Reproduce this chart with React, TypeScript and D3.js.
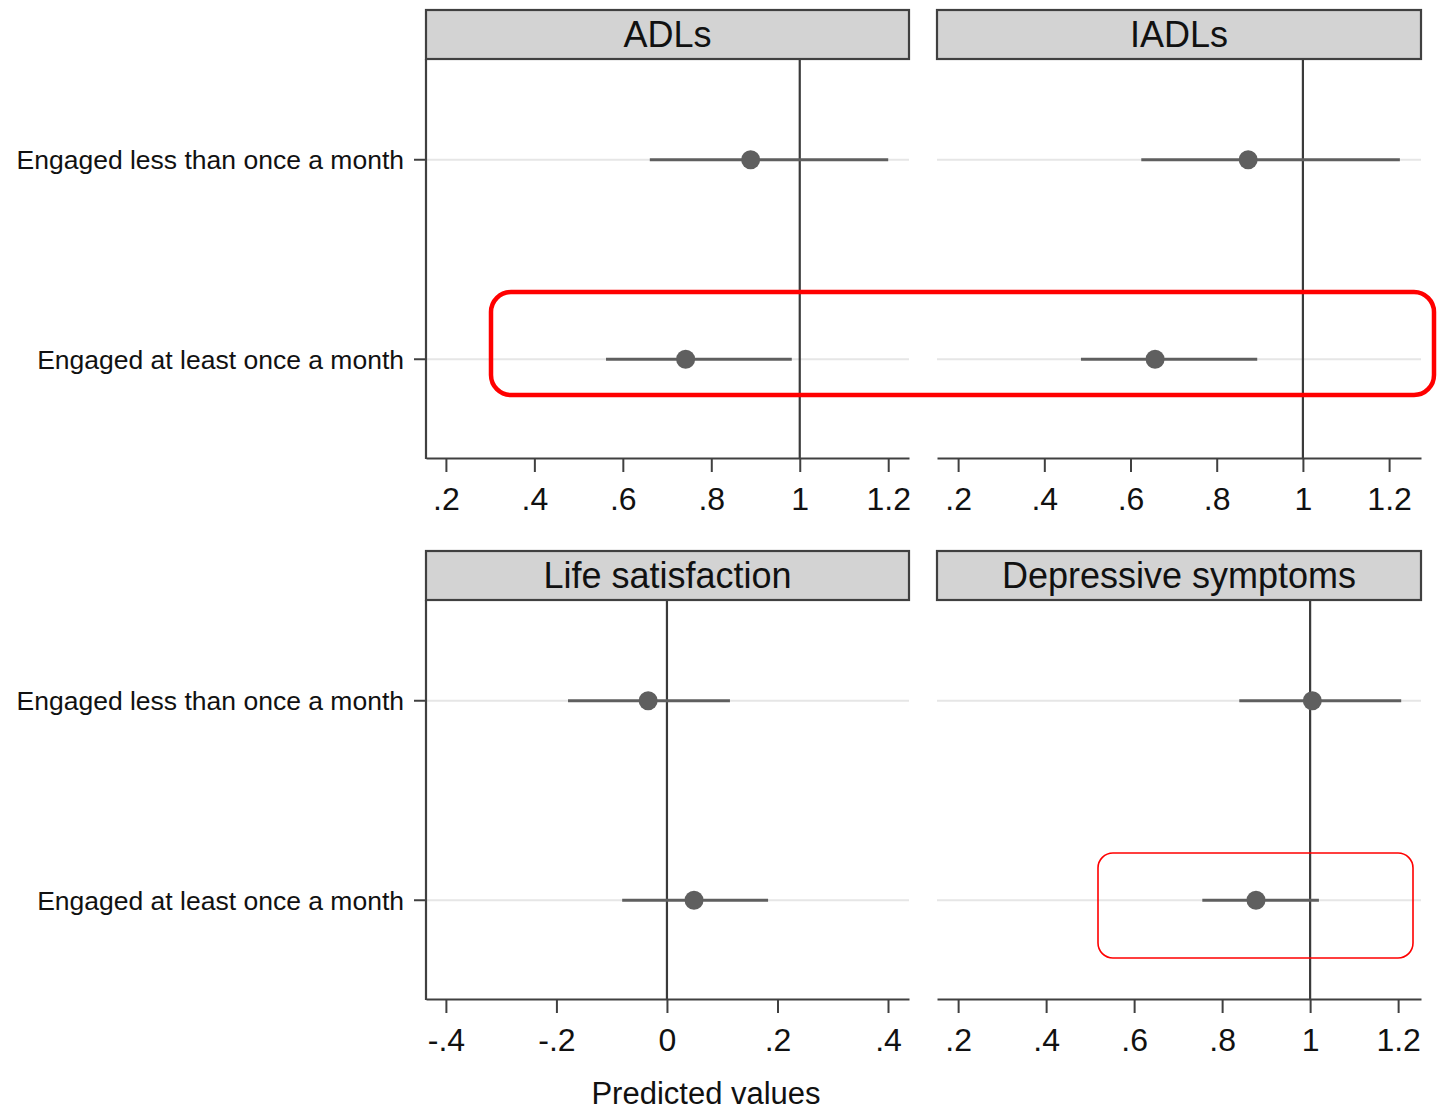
import React, { useEffect, useRef } from "react";
import * as d3 from "d3";

// Outcome panels (row-major: top-left, top-right, bottom-left, bottom-right)
const panelTitles = ["ADLs", "IADLs", "Life satisfaction", "Depressive symptoms"];
const categories = ["Engaged less than once a month", "Engaged at least once a month"];

// Predicted values with 95% CI, per panel, per category
const estimates = [
  [0.889, 0.742],
  [0.873, 0.657],
  [-0.034, 0.049],
  [1.005, 0.877],
];
const lowerCI = [
  [0.661, 0.562],
  [0.625, 0.485],
  [-0.179, -0.081],
  [0.839, 0.755],
];
const upperCI = [
  [1.2, 0.982],
  [1.225, 0.894],
  [0.114, 0.183],
  [1.207, 1.02],
];
const referenceValues = [1, 1, 0, 1];
const tickValues = [
  [0.2, 0.4, 0.6, 0.8, 1, 1.2],
  [0.2, 0.4, 0.6, 0.8, 1, 1.2],
  [-0.4, -0.2, 0, 0.2, 0.4],
  [0.2, 0.4, 0.6, 0.8, 1, 1.2],
];
const xDomains = [
  [0.155, 1.247],
  [0.151, 1.274],
  [-0.436, 0.438],
  [0.152, 1.252],
];
const xAxisTitle = "Predicted values";

const W = 1438;
const H = 1110;
const FONT = "'Liberation Sans', Arial, sans-serif";

const fmt = (v: number) => {
  const s = String(+v.toFixed(2));
  return s.replace(/^(-?)0\./, "$1.");
};

export default function App() {
  const ref = useRef<SVGSVGElement | null>(null);

  useEffect(() => {
    const svg = d3.select(ref.current);
    svg.selectAll("*").remove();

    const colX = [426, 937];
    const panelW = [483, 484];
    const rowTop = [10, 551];
    const headerH = 49;
    const plotH = 399;

    panelTitles.forEach((title, i) => {
      const col = i % 2;
      const row = Math.floor(i / 2);
      const x0 = colX[col];
      const w = panelW[col];
      const top = rowTop[row];
      const plotTop = top + headerH;
      const plotBottom = plotTop + plotH;

      const x = d3.scaleLinear().domain(xDomains[i]).range([x0, x0 + w]);
      const y = d3
        .scalePoint<string>()
        .domain(categories)
        .range([plotTop + 1, plotBottom + 1])
        .padding(0.5);

      const g = svg.append("g");

      // row guide lines
      g.selectAll("line.grid")
        .data(categories)
        .enter()
        .append("line")
        .attr("x1", x0)
        .attr("x2", x0 + w)
        .attr("y1", (d) => y(d)!)
        .attr("y2", (d) => y(d)!)
        .attr("stroke", "#e6e6e6")
        .attr("stroke-width", 2);

      // reference line
      g.append("line")
        .attr("x1", x(referenceValues[i]))
        .attr("x2", x(referenceValues[i]))
        .attr("y1", plotTop)
        .attr("y2", plotBottom)
        .attr("stroke", "#3a3a3a")
        .attr("stroke-width", 2.2);

      // confidence intervals
      g.selectAll("line.ci")
        .data(categories)
        .enter()
        .append("line")
        .attr("x1", (_, j) => x(lowerCI[i][j]))
        .attr("x2", (_, j) => x(upperCI[i][j]))
        .attr("y1", (d) => y(d)!)
        .attr("y2", (d) => y(d)!)
        .attr("stroke", "#5f5f5f")
        .attr("stroke-width", 3);

      // point estimates
      g.selectAll("circle")
        .data(categories)
        .enter()
        .append("circle")
        .attr("cx", (_, j) => x(estimates[i][j]))
        .attr("cy", (d) => y(d)!)
        .attr("r", 9.5)
        .attr("fill", "#5f5f5f");

      // x axis
      const axisG = g.append("g").attr("transform", `translate(0,${plotBottom})`);
      const ax = d3
        .axisBottom(x)
        .tickValues(tickValues[i])
        .tickFormat((d) => fmt(+d))
        .tickSizeOuter(0)
        .tickSizeInner(14)
        .tickPadding(15);
      axisG.call(ax);
      axisG.select(".domain").attr("stroke", "#404040").attr("stroke-width", 2.2);
      axisG.selectAll(".tick line").attr("stroke", "#404040").attr("stroke-width", 2);
      axisG
        .selectAll(".tick text")
        .attr("fill", "#111")
        .attr("font-family", FONT)
        .attr("font-size", 32)
        .attr("dy", "0.72em");

      // y axis on the left column only
      if (col === 0) {
        g.append("line")
          .attr("x1", x0)
          .attr("x2", x0)
          .attr("y1", plotTop)
          .attr("y2", plotBottom + 1)
          .attr("stroke", "#404040")
          .attr("stroke-width", 2.2);
        g.selectAll("line.ytick")
          .data(categories)
          .enter()
          .append("line")
          .attr("x1", x0 - 12)
          .attr("x2", x0)
          .attr("y1", (d) => y(d)!)
          .attr("y2", (d) => y(d)!)
          .attr("stroke", "#404040")
          .attr("stroke-width", 2);
        g.selectAll("text.ylab")
          .data(categories)
          .enter()
          .append("text")
          .attr("x", x0 - 22)
          .attr("y", (d) => y(d)!)
          .attr("dy", "0.35em")
          .attr("text-anchor", "end")
          .attr("font-family", FONT)
          .attr("font-size", 26.5)
          .attr("fill", "#111")
          .text((d) => d);
      }

      // header strip
      g.append("rect")
        .attr("x", x0)
        .attr("y", top)
        .attr("width", w)
        .attr("height", headerH)
        .attr("fill", "#d3d3d3")
        .attr("stroke", "#404040")
        .attr("stroke-width", 2.2);
      g.append("text")
        .attr("x", x0 + w / 2)
        .attr("y", top + headerH / 2)
        .attr("dy", "0.36em")
        .attr("text-anchor", "middle")
        .attr("font-family", FONT)
        .attr("font-size", 36)
        .attr("fill", "#111")
        .text(title);
    });

    // x axis title
    svg
      .append("text")
      .attr("x", 706)
      .attr("y", 1104)
      .attr("text-anchor", "middle")
      .attr("font-family", FONT)
      .attr("font-size", 31)
      .attr("fill", "#111")
      .text(xAxisTitle);

    // highlight boxes
    svg
      .append("rect")
      .attr("x", 491)
      .attr("y", 292)
      .attr("width", 943)
      .attr("height", 103)
      .attr("rx", 20)
      .attr("fill", "none")
      .attr("stroke", "#ff0000")
      .attr("stroke-width", 4.5);
    svg
      .append("rect")
      .attr("x", 1098)
      .attr("y", 853)
      .attr("width", 315)
      .attr("height", 105)
      .attr("rx", 15)
      .attr("fill", "none")
      .attr("stroke", "#ff0000")
      .attr("stroke-width", 1.6);
  }, []);

  return (
    <svg
      ref={ref}
      width={W}
      height={H}
      style={{ position: "absolute", left: 0, top: 0, background: "#fff" }}
    />
  );
}
